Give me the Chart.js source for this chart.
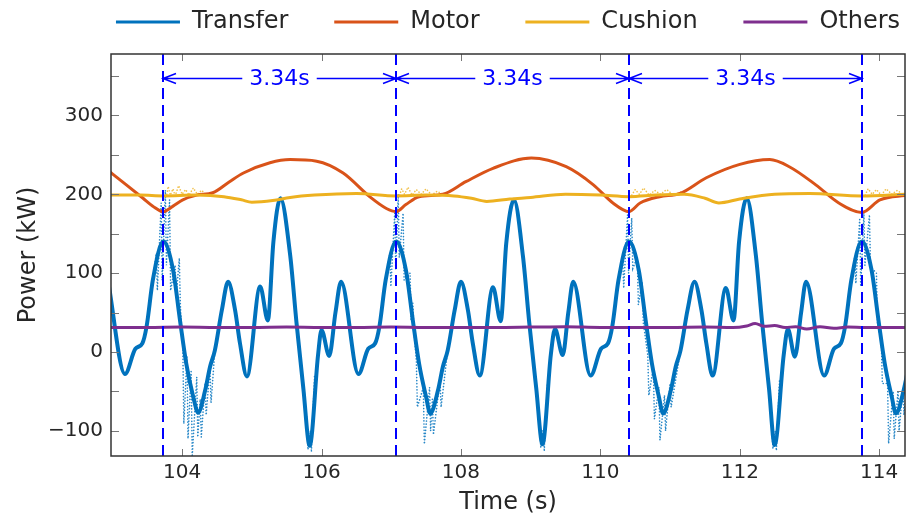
<!DOCTYPE html>
<html>
<head>
<meta charset="utf-8">
<title>Power</title>
<script src="https://cdn.jsdelivr.net/npm/chart.js@4.4.1/dist/chart.umd.min.js"></script>
<style>
  html, body { margin: 0; padding: 0; background: #fff; }
</style>
</head>
<body>
<canvas id="chart" width="907" height="517"></canvas>
<script>

/***** DATA *****/

// Transfer power, smoothed (s, kW)
const transferTime = [
  102.94, 103.18, 103.33, 103.43, 103.49, 103.58, 103.73, 103.87, 103.97, 104.06,
  104.16, 104.23, 104.33, 104.40, 104.47, 104.57, 104.66, 104.76, 104.83, 104.93,
  105.12, 105.23, 105.31, 105.41, 105.55, 105.64, 105.74, 105.83, 105.95, 106.00,
  106.11, 106.20, 106.28, 106.53, 106.67, 106.77, 106.83, 106.92, 107.07,
  107.21, 107.31, 107.40, 107.50, 107.56, 107.67, 107.74, 107.81, 107.91, 108.00,
  108.10, 108.17, 108.27, 108.46, 108.57, 108.65, 108.76, 108.89, 108.98, 109.08,
  109.17, 109.29, 109.35, 109.46, 109.54, 109.61, 109.86, 110.01, 110.11, 110.17,
  110.26, 110.41,
  110.55, 110.65, 110.74, 110.84, 110.90, 111.01, 111.08, 111.15, 111.25, 111.35,
  111.45, 111.52, 111.61, 111.80, 111.91, 111.99, 112.10, 112.23, 112.32, 112.42,
  112.50, 112.63, 112.69, 112.79, 112.88, 112.95, 113.21, 113.35, 113.45, 113.51,
  113.60, 113.75,
  113.89, 113.99, 114.08, 114.18, 114.24, 114.35, 114.42
]
const transferPower = [
  89, -28, 4, 11, 32, 91, 140, 104, 40, -15,
  -57, -77, -49, -19, 2, 53, 89, 53, 11, -31,
  83, 40, 140, 195, 123, 38, -47, -119, -4, 28,
  -5, 50, 89, -28, 4, 11, 32, 91, 140,
  104, 40, -15, -57, -78, -49, -19, 2, 53, 89,
  53, 11, -30, 82, 39, 138, 193, 121, 37, -46,
  -117, -3, 29, -4, 50, 89, -30, 4, 11, 32,
  91, 140,
  104, 40, -15, -57, -78, -49, -19, 2, 53, 89,
  53, 11, -30, 81, 40, 140, 195, 123, 38, -47,
  -118, -4, 29, -6, 50, 89, -30, 4, 11, 32,
  91, 140,
  104, 40, -15, -57, -78, -49, -19
]

// Transfer power, raw samples where they leave the smoothed curve (null = gap)
const transferRawTime = [
  103.58, 103.63, 103.645, 103.70, 103.715, 103.76, 103.775, 103.82, 103.835, 103.90,
  103.915, 103.96, 103.975, 104.01, 104.025, 104.07, 104.085, 104.13, 104.145, 104.21,
  104.225, 104.26, 104.275, 104.33, 104.345, 104.40, 104.415, 104.47,
  104.60,
  105.74, 105.79, 105.805, 105.84, 105.855, 105.90,
  106.00,
  106.92, 106.98, 106.995, 107.05, 107.065, 107.10, 107.115, 107.17, 107.185, 107.27,
  107.285, 107.31, 107.325, 107.36, 107.375, 107.46, 107.475, 107.55, 107.565, 107.59,
  107.605, 107.70, 107.715, 107.81,
  108.00,
  109.08, 109.13, 109.145, 109.18, 109.195, 109.24,
  109.40,
  110.26, 110.32, 110.335, 110.39, 110.405, 110.45, 110.465, 110.53, 110.545, 110.60,
  110.615, 110.68, 110.695, 110.76, 110.775, 110.84, 110.855, 110.92, 110.935, 111.00,
  111.015, 111.15,
  111.30,
  112.42, 112.46, 112.475, 112.51, 112.525, 112.57,
  112.70,
  113.60, 113.65, 113.665, 113.72, 113.735, 113.78, 113.795, 113.86, 113.875, 113.96,
  113.975, 114.03, 114.045, 114.12, 114.135, 114.20, 114.215, 114.27, 114.285, 114.34,
  114.355, 114.42
]
const transferRawPower = [
  91, 125, 78, 189, 91, 205, 110, 193, 78, 110,
  70, 119, 59, 6, -91, -5, -110, -23, -133, -32,
  -108, -60, -108, -40, -80, -19, -65, 2,
  null,
  -47, -85, -124, -100, -127, -30,
  null,
  91, 125, 83, 176, 104, 200, 120, 176, 91, 100,
  40, 62, 28, -11, -70, -45, -117, -45, -100, -60,
  -105, -35, -70, 2,
  null,
  -46, -88, -122, -98, -126, -40,
  null,
  91, 120, 81, 174, 100, 170, 106, 120, 60, 89,
  38, -4, -55, -20, -85, -45, -112, -55, -100, -40,
  -70, 2,
  null,
  -47, -90, -123, -100, -125, -35,
  null,
  91, 121, 87, 168, 83, 176, 110, 174, 108, 100,
  36, 15, -40, -40, -116, -50, -110, -49, -100, -45,
  -80, -19
]

// Motor power
const motorTime = [
  102.90, 103.20, 103.44, 103.58, 103.73, 103.87, 104.01, 104.21, 104.44, 104.68,
  104.88, 105.26, 105.55, 105.93, 106.31, 106.69, 106.93, 107.07,
  107.21, 107.40, 107.74, 108.07, 108.46, 109.01, 109.51, 109.90, 110.18, 110.41,
  110.57, 110.85, 111.14, 111.52, 112.00, 112.43, 112.71, 113.09, 113.42, 113.75,
  114.01, 114.40
]
const motorPower = [
  233, 212, 195, 185, 178, 185, 193, 199, 202, 216,
  227, 240, 244, 242, 227, 197, 182, 178,
  187, 197, 200, 216, 233, 246, 235, 212, 189, 178,
  189, 197, 201, 221, 238, 244, 235, 212, 189, 177,
  193, 199
]

// Cushion power
const cushionTime = [
  102.98, 103.40, 103.73, 104.20, 104.60, 104.85, 105.00, 105.30, 105.55, 105.90,
  106.50, 107.07, 107.50, 107.90, 108.15, 108.37, 108.70, 109.00, 109.50, 110.00,
  110.41, 110.80, 111.20, 111.50, 111.70, 112.00, 112.50, 113.00, 113.75, 114.37
]
const cushionPower = [
  199, 199, 198, 199, 197, 193, 190, 192, 196, 199,
  201, 198, 199, 198, 195, 191, 194, 196, 200, 199,
  197, 199, 200, 195, 189, 194, 200, 201, 198, 200
]

// Cushion power, raw samples after each cycle start
const cushionRawTime = [
  103.78, 103.80, 103.83, 103.87, 103.90, 103.95, 104.00, 104.05, 104.10, 104.16, 104.22, 104.28, 104.35,
  104.50,
  107.12, 107.15, 107.19, 107.24, 107.30, 107.36, 107.43, 107.50, 107.58, 107.66, 107.75,
  107.90,
  110.45, 110.50, 110.56, 110.62, 110.70, 110.78, 110.86, 110.95, 111.05, 111.15, 111.22,
  111.40,
  113.80, 113.84, 113.90, 113.96, 114.03, 114.10, 114.18, 114.26, 114.35
]
const cushionRawPower = [
  200, 210, 199, 207, 198, 211, 200, 206, 199, 208, 200, 205, 199,
  null,
  199, 207, 200, 209, 199, 206, 200, 207, 199, 204, 199,
  null,
  199, 206, 200, 208, 199, 205, 200, 206, 199, 203, 199,
  null,
  199, 207, 200, 206, 199, 207, 200, 205, 199
]

// Others power
const othersTime = [
  102.98, 103.50, 104.00, 104.50, 105.00, 105.50, 106.00, 106.50, 107.00, 107.50,
  108.00, 108.50, 109.00, 109.50, 110.00, 110.50, 111.00, 111.50, 111.90, 112.10,
  112.22, 112.35, 112.50, 112.65, 112.80, 112.96, 113.15, 113.35, 113.55, 113.80,
  114.10, 114.37
]
const othersPower = [
  31, 31, 31.5, 31, 31, 31.5, 31, 31, 31.5, 31,
  31, 31, 31.5, 32, 31, 31, 31, 31.5, 31, 33,
  36, 32.5, 33.5, 31, 32, 29, 32, 30, 31.5, 31,
  31, 31
]

// cycle starts and the period between them
const cycleMarks = [103.73, 107.07, 110.41, 113.75]
const cycleLabels = ['3.34s', '3.34s', '3.34s']
const arrowLevel = 348

// axes
const timeTicks = [104, 106, 108, 110, 112, 114]
const powerTicks = [-100, 0, 100, 200, 300]
const powerTickMarks = [-100, -50, 0, 50, 100, 150, 200, 250, 300, 350]

/***** HELPERS *****/

const toPoints = (t, v) => t.map((x, i) => ({x: x, y: v[i]}))

const FONT = "'DejaVu Sans', sans-serif"
const TEXT = '#262626'
// legend entries are spaced with trailing blanks so one row fits over the plot
const LEGEND_GAP = '      '

/***** PLUGINS *****/

// dashed cycle lines + double arrows with the period label
const cycleMarker = {
  id: 'cycleMarker',
  afterDatasetsDraw: (chart) => {
    const {ctx, chartArea: a, scales: {x, y}} = chart
    ctx.save()
    ctx.strokeStyle = '#0000ff'
    ctx.lineWidth = 2
    ctx.setLineDash([11, 6])
    cycleMarks.forEach((t) => {
      const px = Math.round(x.getPixelForValue(t))
      ctx.beginPath()
      ctx.moveTo(px, a.top)
      ctx.lineTo(px, a.bottom)
      ctx.stroke()
    })

    ctx.setLineDash([])
    ctx.lineWidth = 1.5
    ctx.fillStyle = '#0000ff'
    ctx.font = '22px ' + FONT
    ctx.textAlign = 'center'
    ctx.textBaseline = 'middle'
    const py = Math.round(y.getPixelForValue(arrowLevel)) + 0.5
    const headLen = 13
    const headHalf = 5
    cycleLabels.forEach((label, i) => {
      const x0 = Math.round(x.getPixelForValue(cycleMarks[i]))
      const x1 = Math.round(x.getPixelForValue(cycleMarks[i + 1]))
      const mid = (x0 + x1) / 2
      const gap = ctx.measureText(label).width / 2 + 7
      ctx.beginPath()
      ctx.moveTo(x0, py)
      ctx.lineTo(mid - gap, py)
      ctx.moveTo(mid + gap, py)
      ctx.lineTo(x1, py)
      // heads
      ctx.moveTo(x0 + headLen, py - headHalf)
      ctx.lineTo(x0, py)
      ctx.lineTo(x0 + headLen, py + headHalf)
      ctx.moveTo(x1 - headLen, py - headHalf)
      ctx.lineTo(x1, py)
      ctx.lineTo(x1 - headLen, py + headHalf)
      ctx.stroke()
      ctx.fillText(label, mid, py + 1)
    })
    ctx.restore()
  }
}

// boxed frame with inward ticks on all four sides
const frameTicks = {
  id: 'frameTicks',
  afterDraw: (chart) => {
    const {ctx, chartArea: a, scales: {x, y}} = chart
    ctx.save()
    ctx.strokeStyle = '#777'
    ctx.lineWidth = 1
    ctx.beginPath()
    timeTicks.forEach((v) => {
      const px = Math.round(x.getPixelForValue(v)) + 0.5
      ctx.moveTo(px, a.bottom)
      ctx.lineTo(px, a.bottom - 7)
      ctx.moveTo(px, a.top)
      ctx.lineTo(px, a.top + 7)
    })
    powerTickMarks.forEach((v) => {
      const py = Math.round(y.getPixelForValue(v)) + 0.5
      ctx.moveTo(a.left, py)
      ctx.lineTo(a.left + 8, py)
      ctx.moveTo(a.right, py)
      ctx.lineTo(a.right - 8, py)
    })
    ctx.stroke()

    ctx.strokeStyle = '#333'
    ctx.lineWidth = 1.5
    ctx.strokeRect(a.left, a.top, a.right - a.left, a.bottom - a.top)
    ctx.restore()
  }
}

/***** CHART *****/

const series = (label, t, v, color, width, order) => ({
  label: label,
  data: toPoints(t, v),
  borderColor: color,
  backgroundColor: color,
  borderWidth: width,
  pointRadius: 0,
  cubicInterpolationMode: 'monotone',
  order: order
})

const rawSeries = (label, t, v, color, order) => ({
  label: label,
  data: toPoints(t, v),
  borderColor: color,
  backgroundColor: color,
  borderWidth: 1.6,
  borderDash: [0.1, 3],
  borderCapStyle: 'round',
  pointRadius: 0,
  tension: 0,
  spanGaps: false,
  order: order
})

new Chart(document.getElementById('chart'), {
  type: 'line',
  data: {
    datasets: [
      series('Transfer', transferTime, transferPower, '#0072BD', 4, 3),
      series('Motor', motorTime, motorPower, '#D95319', 3, 2),
      series('Cushion', cushionTime, cushionPower, '#EDB120', 3, 1),
      series('Others', othersTime, othersPower, '#7E2F8E', 3, 0),
      rawSeries('Transfer raw', transferRawTime, transferRawPower, 'rgba(0, 114, 189, 0.85)', 4),
      rawSeries('Cushion raw', cushionRawTime, cushionRawPower, 'rgba(237, 177, 32, 0.8)', 5)
    ]
  },
  options: {
    responsive: false,
    animation: false,
    events: [],
    layout: {padding: {top: 10, right: 2, bottom: 0, left: 0}},
    font: {family: FONT},
    color: TEXT,
    plugins: {
      tooltip: {enabled: false},
      legend: {
        position: 'top',
        fullSize: false,
        labels: {
          color: TEXT,
          font: {family: FONT, size: 24},
          usePointStyle: true,
          pointStyle: 'line',
          pointStyleWidth: 64,
          padding: 0,
          filter: (item) => item.datasetIndex < 4,
          sort: (a, b) => a.datasetIndex - b.datasetIndex,
          generateLabels: (chart) => {
            return Chart.defaults.plugins.legend.labels.generateLabels(chart)
              .map((item) => Object.assign(item, {
                lineWidth: 3,
                text: item.datasetIndex < 3 ? item.text + LEGEND_GAP : item.text
              }))
          }
        }
      }
    },
    scales: {
      x: {
        type: 'linear',
        min: 102.98,
        max: 114.37,
        afterBuildTicks: (s) => { s.ticks = timeTicks.map((v) => ({value: v})) },
        afterFit: (s) => { s.height = 61 },
        grid: {display: false, drawTicks: false},
        border: {display: false},
        ticks: {color: TEXT, font: {family: FONT, size: 20}, padding: 5, maxRotation: 0},
        title: {display: true, text: 'Time (s)', color: TEXT, font: {family: FONT, size: 24}, padding: {top: 0, bottom: 0}}
      },
      xTop: {
        type: 'linear',
        axis: 'x',
        position: 'top',
        min: 0,
        max: 1,
        afterFit: (s) => { s.height = 10 },
        grid: {display: false, drawTicks: false},
        border: {display: false},
        ticks: {display: false}
      },
      y: {
        type: 'linear',
        min: -132,
        max: 378,
        afterBuildTicks: (s) => { s.ticks = powerTicks.map((v) => ({value: v})) },
        afterFit: (s) => { s.width = 111 },
        grid: {display: false, drawTicks: false},
        border: {display: false},
        ticks: {
          color: TEXT,
          font: {family: FONT, size: 20},
          padding: 8,
          callback: (v) => String(v).replace('-', '\u2212')
        },
        title: {display: true, text: 'Power (kW)', color: TEXT, font: {family: FONT, size: 24}, padding: {top: 14, bottom: 0}}
      }
    }
  },
  plugins: [cycleMarker, frameTicks]
})
</script>
</body>
</html>
